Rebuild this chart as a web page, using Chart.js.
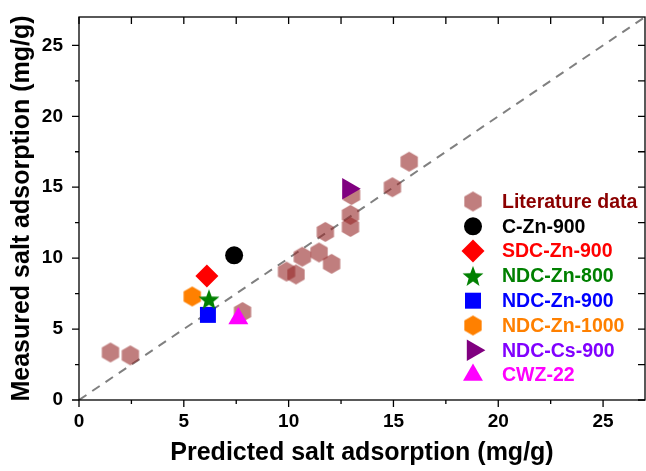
<!DOCTYPE html>
<html>
<head>
<meta charset="utf-8">
<script src="https://cdn.jsdelivr.net/npm/chart.js@4.4.1/dist/chart.umd.min.js"></script>
<style>
  html, body { margin: 0; padding: 0; background: #fff; overflow: hidden; }
  #wrap { position: relative; width: 646px; height: 471px; }
  canvas { display: block; }
</style>
</head>
<body>
<div id="wrap"><canvas id="chart"></canvas></div>
<script>
// values
const literatureX = [1.5, 2.45, 7.8, 9.9, 10.35, 10.65, 11.45, 11.75, 12.05, 12.95, 12.95, 13.0, 14.95, 15.75];
const literatureY = [3.35, 3.15, 6.2, 9.05, 8.85, 10.1, 10.4, 11.85, 9.6, 12.2, 13.05, 14.45, 15.0, 16.8];

const sampleNames = ['C-Zn-900', 'SDC-Zn-900', 'NDC-Zn-800', 'NDC-Zn-900', 'NDC-Zn-1000', 'NDC-Cs-900', 'CWZ-22'];
const sampleX = [7.4, 6.1, 6.2, 6.15, 5.4, 12.85, 7.6];
const sampleY = [10.2, 8.75, 7.1, 6.0, 7.3, 14.9, 5.75];

const diagonalX = [0, 27];
const diagonalY = [0, 27];

const axisMax = 27;
const majorStep = 5;
const minorStep = 2.5;

const legendNames = ['Literature data'].concat(sampleNames);
const legendTextColors = ['#8B0000', '#000000', '#FF0000', '#008000', '#0000FF', '#FF8000', '#8000FF', '#FF00FF'];

function hexagon(r, fill) {
    const c = document.createElement('canvas');
    const w = Math.ceil(r * Math.sqrt(3)) + 2, h = Math.ceil(2 * r) + 2;
    c.width = w; c.height = h;
    const g = c.getContext('2d');
    g.fillStyle = fill;
    g.beginPath();
    for (let i = 0; i < 6; i++) {
        const a = -Math.PI / 2 + i * Math.PI / 3;
        const px = w / 2 + r * Math.cos(a), py = h / 2 + r * Math.sin(a);
        if (i) g.lineTo(px, py); else g.moveTo(px, py);
    }
    g.closePath();
    g.fill();
    return c;
}

function star(r, fill) {
    const c = document.createElement('canvas');
    const s = Math.ceil(2 * r) + 2;
    c.width = s; c.height = s;
    const g = c.getContext('2d');
    g.fillStyle = fill;
    g.beginPath();
    for (let i = 0; i < 10; i++) {
        const a = -Math.PI / 2 + i * Math.PI / 5;
        const rr = i % 2 ? r * 0.42 : r;
        const px = s / 2 + rr * Math.cos(a), py = s / 2 + 1 + rr * Math.sin(a);
        if (i) g.lineTo(px, py); else g.moveTo(px, py);
    }
    g.closePath();
    g.fill();
    return c;
}

const pts = (xs, ys) => xs.map((x, i) => ({x: x, y: ys[i]}));
const one = i => [{x: sampleX[i], y: sampleY[i]}];

const litHex = hexagon(10, 'rgba(150, 40, 40, 0.6)');
const orangeHex = hexagon(10, '#FF8000');
const greenStar = star(11, '#008000');

const datasets = [
    {
        label: 'diagonal', type: 'line', data: pts(diagonalX, diagonalY),
        borderColor: '#808080', borderWidth: 2, borderDash: [9, 7],
        pointRadius: 0, fill: false, order: 3
    },
    {
        label: 'Literature data', data: pts(literatureX, literatureY),
        pointStyle: litHex, pointRadius: 10, backgroundColor: 'rgba(150, 40, 40, 0.6)', order: 2
    },
    { label: sampleNames[0], data: one(0), pointStyle: 'circle', pointRadius: 9, backgroundColor: '#000000', borderWidth: 0, order: 1 },
    { label: sampleNames[1], data: one(1), pointStyle: 'rectRot', pointRadius: 11.5, backgroundColor: '#FF0000', borderWidth: 0, order: 1 },
    { label: sampleNames[2], data: one(2), pointStyle: greenStar, pointRadius: 11, backgroundColor: '#008000', order: 1 },
    { label: sampleNames[3], data: one(3), pointStyle: 'rect', pointRadius: 11.3, backgroundColor: '#0000FF', borderWidth: 0, order: 1 },
    { label: sampleNames[4], data: one(4), pointStyle: orangeHex, pointRadius: 10, backgroundColor: '#FF8000', order: 1 },
    { label: sampleNames[5], data: one(5), pointStyle: 'triangle', rotation: 90, pointRadius: 12.4, backgroundColor: '#800080', borderWidth: 0, order: 1 },
    { label: sampleNames[6], data: one(6), pointStyle: 'triangle', pointRadius: 11.5, backgroundColor: '#FF00FF', borderWidth: 0, order: 1 }
];

const framePlugin = {
    id: 'frame',
    afterDraw(chart) {
        const {ctx, chartArea: a} = chart;
        const xs = chart.scales.x, ys = chart.scales.y;
        ctx.save();
        ctx.strokeStyle = '#000';
        ctx.lineWidth = 1.3;
        ctx.strokeRect(a.left, a.top, a.right - a.left, a.bottom - a.top);
        ctx.beginPath();
        for (let v = 0; v <= axisMax; v += minorStep) {
            const major = v % majorStep === 0;
            const out = major ? 7 : 4;
            const px = xs.getPixelForValue(v);
            const py = ys.getPixelForValue(v);
            ctx.moveTo(px, a.bottom); ctx.lineTo(px, a.bottom + out);
            ctx.moveTo(px, a.top); ctx.lineTo(px, a.top + 7);
            ctx.moveTo(a.left, py); ctx.lineTo(a.left - out, py);
            ctx.moveTo(a.right, py); ctx.lineTo(a.right - 7, py);
        }
        ctx.stroke();
        ctx.restore();
    }
};

const legendPlugin = {
    id: 'insideLegend',
    afterDraw(chart) {
        const ctx = chart.ctx;
        ctx.save();
        ctx.font = 'bold 19.5px "Liberation Sans", Arial, sans-serif';
        ctx.textBaseline = 'middle';
        legendNames.forEach((name, i) => {
            const ds = chart.data.datasets.find(d => d.label === name);
            const y = 201.5 + i * 24.8;
            ctx.fillStyle = ds.backgroundColor;
            Chart.helpers.drawPoint(ctx, {
                pointStyle: ds.pointStyle, radius: ds.pointRadius,
                rotation: ds.rotation || 0, borderWidth: 0
            }, 473, y);
            ctx.fillStyle = legendTextColors[i];
            ctx.fillText(name, 502, y + 1);
        });
        ctx.restore();
    }
};

Chart.defaults.font.family = '"Liberation Sans", Arial, sans-serif';
Chart.defaults.font.weight = 'bold';
Chart.defaults.color = '#000';

new Chart(document.getElementById('chart'), {
    type: 'scatter',
    data: { datasets: datasets },
    options: {
        responsive: true,
        maintainAspectRatio: false,
        animation: false,
        layout: { autoPadding: false, padding: { top: 17, right: 1, left: 0, bottom: 0 } },
        plugins: { legend: { display: false }, tooltip: { enabled: false } },
        scales: {
            x: {
                type: 'linear', min: 0, max: axisMax,
                grid: { display: false, drawTicks: false },
                border: { display: false },
                ticks: { stepSize: majorStep, includeBounds: false, padding: 10, font: { size: 19, weight: 'bold' } },
                title: { display: true, text: 'Predicted salt adsorption (mg/g)', font: { size: 25, weight: 'bold' }, padding: { top: 0, bottom: 3 } },
                afterFit(s) { s.height = 71; s.paddingLeft = 0; s.paddingRight = 0; }
            },
            y: {
                type: 'linear', min: 0, max: axisMax,
                grid: { display: false, drawTicks: false },
                border: { display: false },
                ticks: { stepSize: majorStep, includeBounds: false, padding: 16, font: { size: 19, weight: 'bold' } },
                title: { display: true, text: 'Measured salt adsorption (mg/g)', font: { size: 25, weight: 'bold' }, padding: { top: 7, bottom: 0 } },
                afterFit(s) { s.width = 79; s.paddingTop = 0; s.paddingBottom = 0; }
            }
        }
    },
    plugins: [framePlugin, legendPlugin]
});
</script>
</body>
</html>
